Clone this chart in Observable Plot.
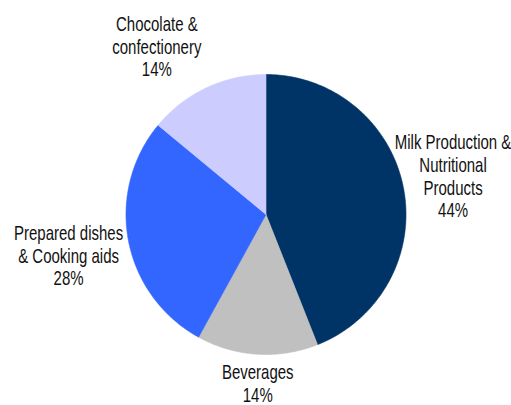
<!DOCTYPE html>
<html>
<head>
<meta charset="utf-8">
<script src="https://cdn.jsdelivr.net/npm/d3@7"></script>
<script src="https://cdn.jsdelivr.net/npm/@observablehq/plot@0.6"></script>
<style>
  html, body { margin: 0; padding: 0; background: #fff; }
  #chart { width: 511px; height: 405px; }
</style>
</head>
<body>
<div id="chart"></div>
<script>
// ---- data ----
const categories = ["Milk Production & Nutritional Products", "Beverages", "Prepared dishes & Cooking aids", "Chocolate & confectionery"];
const shares = [44, 14, 28, 14];
const labelTexts = ["Milk Production &\nNutritional\nProducts\n44%", "Beverages\n14%", "Prepared dishes\n& Cooking aids\n28%", "Chocolate &\nconfectionery\n14%"];
const colors = ["#003366", "#c0c0c0", "#3366ff", "#ccccff"];

// ---- layout (not data) ----
const W = 511, H = 405, CX = 265.5, CY = 214, R = 140;
// label placement in polar form: angle (deg clockwise from top), radius in pie-radius units
const labelPlacement = [[78.4, 1.364], [182.8, 1.207], [258.3, 1.44], [327, 1.432]];

const arcs = d3.pie().sort(null).value(d => d)(shares);
const slicePoints = [];
arcs.forEach((a, i) => {
  const cat = categories[i];
  slicePoints.push({cat, x: 0, y: 0});
  const steps = Math.max(2, Math.ceil((a.endAngle - a.startAngle) / (Math.PI / 360)));
  for (let k = 0; k <= steps; k++) {
    const t = a.startAngle + (a.endAngle - a.startAngle) * k / steps;
    slicePoints.push({cat, x: Math.sin(t), y: Math.cos(t)});
  }
  slicePoints.push({cat, x: 0, y: 0});
});

const labels = labelTexts.map((text, i) => {
  const [deg, r] = labelPlacement[i];
  const t = deg * Math.PI / 180;
  return {text, x: Math.sin(t) * r, y: Math.cos(t) * r};
});

const chart = Plot.plot({
  width: W,
  height: H,
  margin: 0,
  x: {domain: [-CX / R, (W - CX) / R], range: [0, W], axis: null},
  y: {domain: [-(H - CY) / R, CY / R], range: [H, 0], axis: null},
  color: {domain: categories, range: colors},
  style: {background: "#fff", fontFamily: "'Liberation Sans', Arial, Helvetica, sans-serif"},
  marks: [
    Plot.line(slicePoints, {x: "x", y: "y", z: "cat", fill: "cat", stroke: "cat", strokeWidth: 0.6, curve: "linear"}),
    Plot.text(labels, {x: "x", y: "y", text: "text", fontSize: 20, lineHeight: 1.13, lineAnchor: "middle", textAnchor: "middle", fill: "#111", className: "pie-labels"})
  ]
});

// narrow the label glyphs to match the condensed typeface of the reference
chart.querySelectorAll("text").forEach(el => {
  const tr = el.getAttribute("transform") || "";
  const hasX = el.hasAttribute("x"), hasY = el.hasAttribute("y");
  let extra = "";
  if (hasX || hasY) {
    extra = ` translate(${+el.getAttribute("x") || 0},${+el.getAttribute("y") || 0})`;
    el.removeAttribute("x"); el.removeAttribute("y");
  }
  el.setAttribute("transform", `${tr}${extra} scale(0.75,1)`);
});

document.getElementById("chart").appendChild(chart);
</script>
</body>
</html>
